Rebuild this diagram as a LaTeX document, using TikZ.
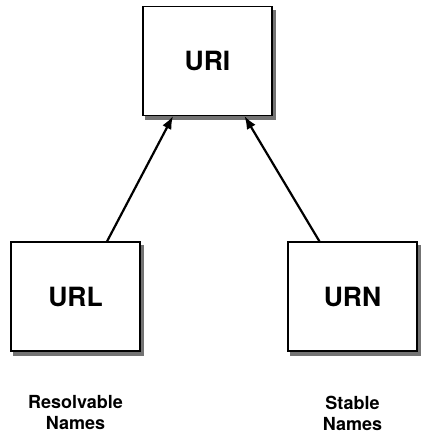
\documentclass[tikz,border=0pt]{standalone}
\usepackage{fontspec}
\setmainfont{TeX Gyre Heros}
\usepackage{tikz}
\usetikzlibrary{arrows,arrows.meta,shapes,backgrounds}
\usetikzlibrary{positioning}
\definecolor{shadowgray}{gray}{0.45}
\tikzstyle{hit}=[-{Latex[length=13pt,width=10pt]},line width=2.2pt]
\tikzstyle{Abox}=[draw,fill=white,line width=1.1pt,minimum width=129pt,minimum height=109pt,
                inner sep=0,font=\bfseries\fontsize{26.5}{30}\selectfont]
\tikzstyle{Alabel}=[align=center,font=\bfseries\fontsize{18}{21}\selectfont]

\begin{document}
\begin{tikzpicture}[x=1pt,y=-1pt]
	\useasboundingbox (0,0) rectangle (427,434);
	\node[Abox] (uri) at (207.5,61) {URI};
	\node[Abox] (url) at (75.5,296.5) {URL};
	\node[Abox] (urn) at (352.5,296.5) {URN};
	\node[Alabel] (url_l) at (75.5,413) {Resolvable\\Names};
	\node[Alabel] (urn_l) at (352.5,413) {Stable\\Names};
	\begin{scope}[on background layer]
	  \fill[shadowgray] ([shift={(3pt,-4pt)}]uri.south west) rectangle ([shift={(3pt,-4pt)}]uri.north east);
	  \fill[shadowgray] ([shift={(3pt,-4pt)}]url.south west) rectangle ([shift={(3pt,-4pt)}]url.north east);
	  \fill[shadowgray] ([shift={(3pt,-4pt)}]urn.south west) rectangle ([shift={(3pt,-4pt)}]urn.north east);
	\end{scope}
	\draw[hit] ([xshift=31.5pt]url.north) -- ([xshift=-34.5pt]uri.south);
	\draw[hit] ([xshift=-33pt]urn.north) -- ([xshift=37pt]uri.south);
\end{tikzpicture}
\end{document}
